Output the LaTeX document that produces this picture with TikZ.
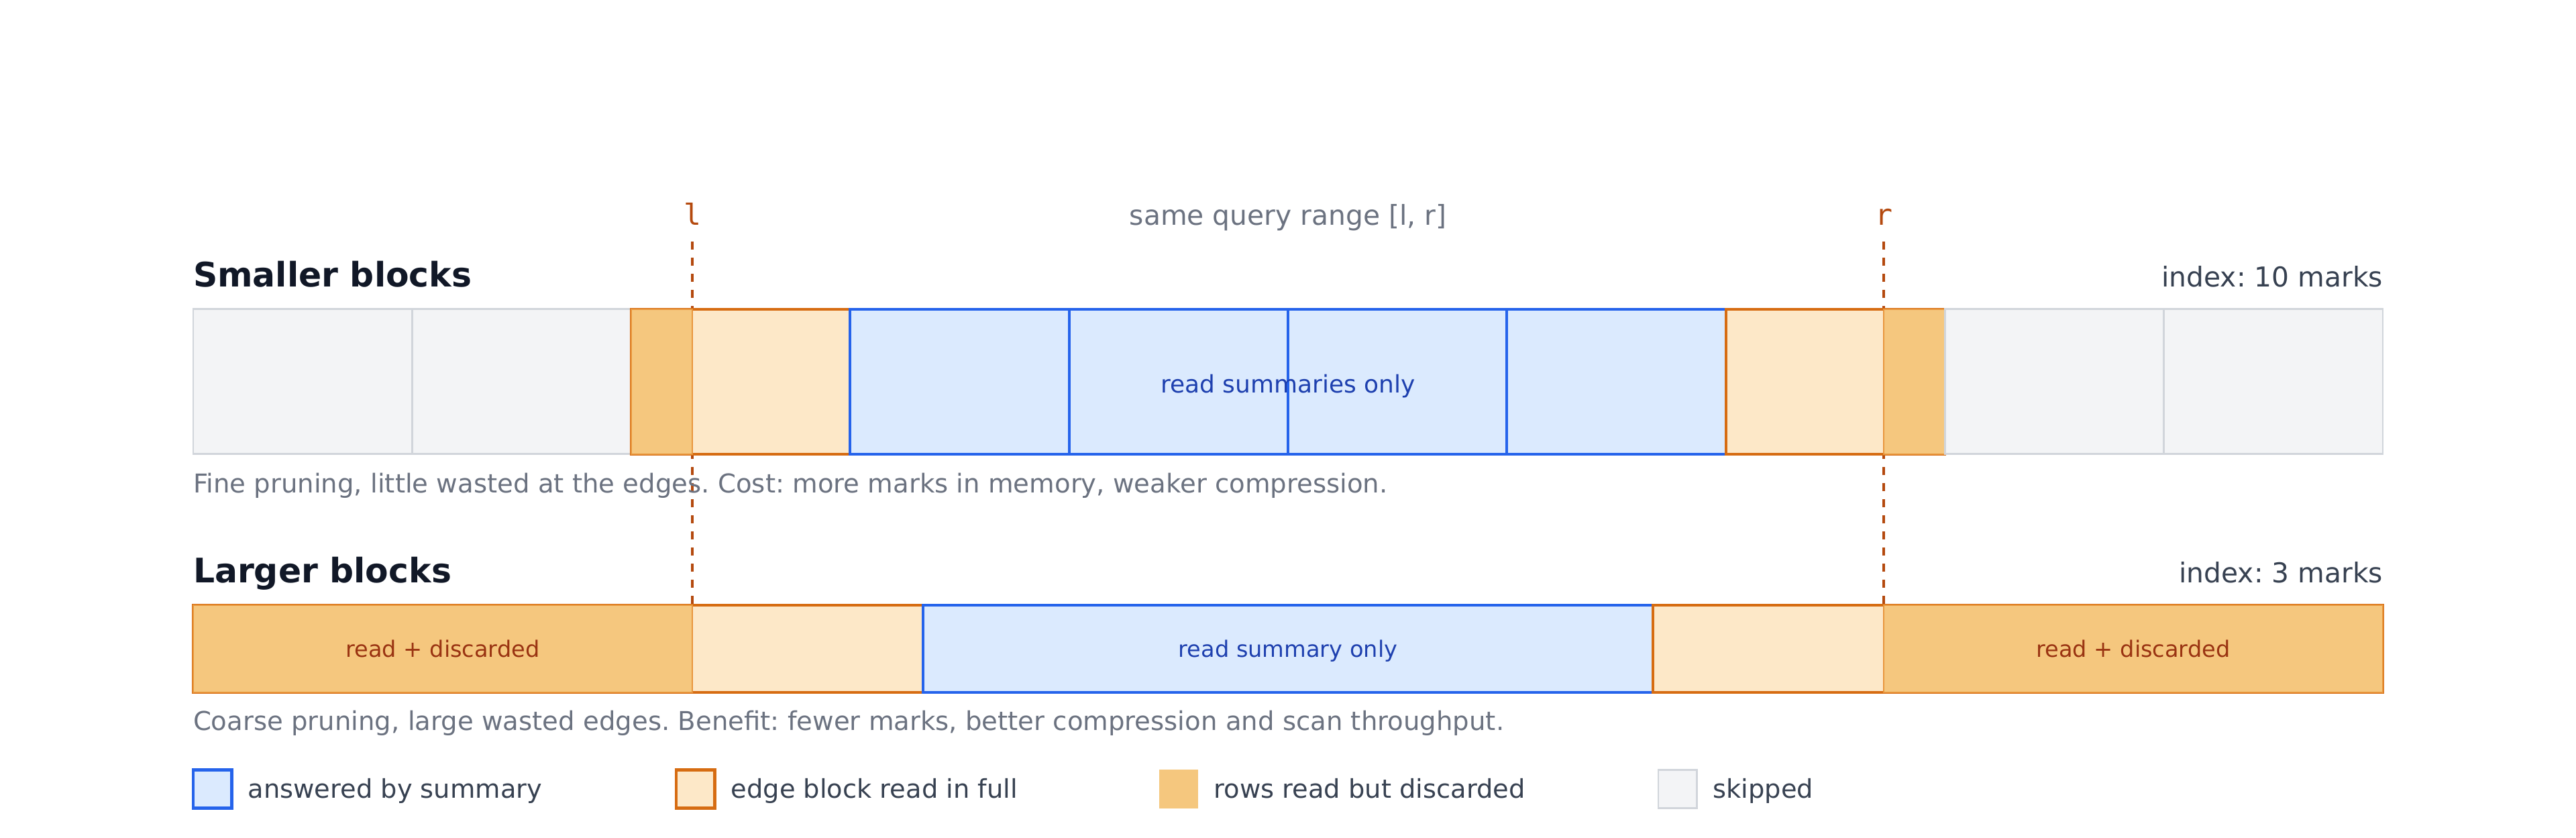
\documentclass[tikz,border=0pt]{standalone}
\usepackage{fontspec}
\setmainfont{DejaVu Sans}
\newfontfamily\monofont{DejaVu Sans Mono}
\frenchspacing
\definecolor{skipfill}{HTML}{F3F4F6}
\definecolor{skipline}{HTML}{D1D5DB}
\definecolor{sumfill}{HTML}{DBEAFE}
\definecolor{sumline}{HTML}{2563EB}
\definecolor{sumtext}{HTML}{1E40AF}
\definecolor{edgefill}{HTML}{FDE8C8}
\definecolor{edgeline}{HTML}{D66C12}
\definecolor{discfill}{HTML}{F5C77E}
\definecolor{discline}{HTML}{E8963C}
\definecolor{disctext}{HTML}{9A3412}
\definecolor{markcol}{HTML}{B4490E}
\definecolor{titlecol}{HTML}{111827}
\definecolor{indexcol}{HTML}{374151}
\definecolor{capcol}{HTML}{6B7280}
\tikzset{
  skipblk/.style={fill=skipfill, draw=skipline, line width=0.55pt},
  sumblk/.style={fill=sumfill, draw=sumline, line width=0.85pt},
  edgeblk/.style={fill=edgefill, draw=edgeline, line width=0.85pt},
  discblk/.style={fill=discfill, draw=discline, line width=0.4pt},
  rangeline/.style={draw=markcol, line width=0.95pt, dash pattern=on 2.5pt off 2.5pt},
  txt/.style={inner sep=0pt, outer sep=0pt},
  titletxt/.style={txt, text=titlecol, font=\fontsize{10.5}{12}\selectfont\bfseries},
  indextxt/.style={txt, text=indexcol, font=\fontsize{8.5}{10}\selectfont},
  captxt/.style={txt, text=capcol, font=\fontsize{8.05}{10}\selectfont},
  toptxt/.style={txt, text=capcol, font=\fontsize{8.5}{10}\selectfont},
  marktxt/.style={txt, text=markcol, font=\fontsize{9}{11}\selectfont\monofont},
  sumtxtA/.style={txt, text=sumtext, font=\fontsize{7.5}{9}\selectfont},
  sumtxtB/.style={txt, text=sumtext, font=\fontsize{7}{9}\selectfont},
  disctxt/.style={txt, text=disctext, font=\fontsize{7}{9}\selectfont},
  legtxt/.style={txt, text=indexcol, font=\fontsize{8}{10}\selectfont},
  legsum/.style={fill=sumfill, draw=sumline, line width=1pt},
  legedge/.style={fill=edgefill, draw=edgeline, line width=1pt},
  legdisc/.style={fill=discfill},
  legskip/.style={fill=skipfill, draw=skipline, line width=0.6pt}
}
\begin{document}
\begin{tikzpicture}[x=0.5pt,y=-0.5pt]
\useasboundingbox (0,0) rectangle (1600,520.4);
\fill[white] (0,0) rectangle (1600,520.4);

% query range labels
\node[toptxt, anchor=base] (qrange) at (800,139.6) {same query range [l, r]};
\node[marktxt, anchor=base] (lmark) at (430,139.6) {l};
\node[marktxt, anchor=base] (rmark) at (1170,139.6) {r};
\coordinate (ltop) at (430,150);
\coordinate (lbot) at (430,376);
\coordinate (rtop) at (1170,150);
\coordinate (rbot) at (1170,376);
\draw[rangeline] (ltop) -- (lbot);
\draw[rangeline] (rtop) -- (rbot);

% smaller blocks row
\node[titletxt, anchor=base west] (t1) at (120,178) {Smaller blocks};
\node[indextxt, anchor=base east] (i1) at (1480,178) {index: 10 marks};
\draw[skipblk] (120,192) rectangle (256,282);
\draw[skipblk] (256,192) rectangle (392,282);
\draw[edgeblk] (392,192) rectangle (528,282);
\draw[discblk] (392,192) rectangle (430,282);
\draw[sumblk] (528,192) rectangle (664,282);
\draw[sumblk] (664,192) rectangle (800,282);
\draw[sumblk] (800,192) rectangle (936,282);
\draw[sumblk] (936,192) rectangle (1072,282);
\draw[edgeblk] (1072,192) rectangle (1208,282);
\draw[discblk] (1170,192) rectangle (1208,282);
\draw[skipblk] (1208,192) rectangle (1344,282);
\draw[skipblk] (1344,192) rectangle (1480,282);
\node[sumtxtA, anchor=base] (s1) at (800,244) {read summaries only};
\node[captxt, anchor=base west] (c1) at (120,306) {Fine pruning, little wasted at the edges. Cost: more marks in memory, weaker compression.};

% larger blocks row
\node[titletxt, anchor=base west] (t2) at (120,362) {Larger blocks};
\node[indextxt, anchor=base east] (i2) at (1480,362) {index: 3 marks};
\draw[edgeblk] (120,376) rectangle (573.33,430);
\draw[discblk] (120,376) rectangle (430,430);
\draw[sumblk] (573.33,376) rectangle (1026.67,430);
\draw[edgeblk] (1026.67,376) rectangle (1480,430);
\draw[discblk] (1170,376) rectangle (1480,430);
\node[disctxt, anchor=base] (d1) at (275,408) {read + discarded};
\node[sumtxtB, anchor=base] (s2) at (800,408) {read summary only};
\node[disctxt, anchor=base] (d2) at (1325,408) {read + discarded};
\node[captxt, anchor=base west] (c2) at (120,453.5) {Coarse pruning, large wasted edges. Benefit: fewer marks, better compression and scan throughput.};

% legend
\draw[legsum] (120,478) rectangle (144,502);
\node[legtxt, anchor=base west] (g1) at (154,495.5) {answered by summary};
\draw[legedge] (420,478) rectangle (444,502);
\node[legtxt, anchor=base west] (g2) at (454,495.5) {edge block read in full};
\fill[legdisc] (720,478) rectangle (744,502);
\node[legtxt, anchor=base west] (g3) at (754,495.5) {rows read but discarded};
\draw[legskip] (1030,478) rectangle (1054,502);
\node[legtxt, anchor=base west] (g4) at (1064,495.5) {skipped};
\end{tikzpicture}
\end{document}
